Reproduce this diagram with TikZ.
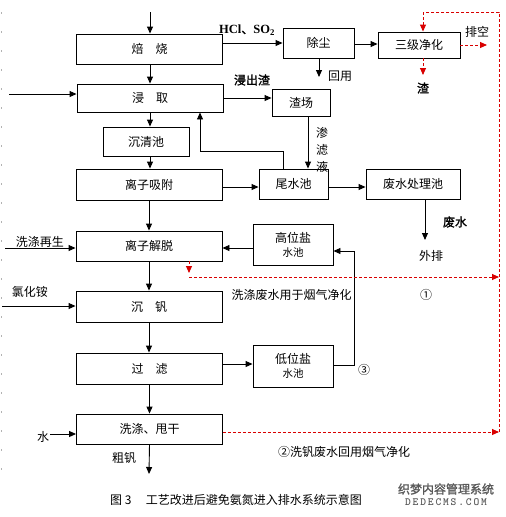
\documentclass[tikz,border=0pt]{standalone}
\usepackage{fontspec}
\setmainfont{Noto Sans CJK SC}
\newfontfamily\cjkb[FakeBold=1.5]{Noto Sans CJK SC}
\newfontfamily\tnr{Liberation Serif}
\usetikzlibrary{arrows.meta,calc}
\begin{document}
\begin{tikzpicture}[x=1pt,y=-1pt,
  box/.style={draw,line width=0.9pt,minimum width=146pt,minimum height=30pt,inner sep=0pt,font=\fontsize{12}{15}\selectfont},
  sbox/.style={draw,line width=0.9pt,inner sep=0pt,font=\fontsize{12}{15}\selectfont},
  arr/.style={line width=0.9pt,-{Triangle[length=7pt,width=6pt]}},
  ln/.style={line width=0.9pt},
  rarr/.style={draw=red!85!black,line width=0.9pt,dash pattern=on 3pt off 2pt,-{Triangle[length=7pt,width=6pt]}},
  rln/.style={draw=red!85!black,line width=0.9pt,dash pattern=on 3pt off 2pt},
  lbl/.style={inner sep=0pt,font=\fontsize{12}{15}\selectfont},
  blbl/.style={inner sep=0pt,font=\cjkb\fontsize{12}{15}\selectfont}]
\useasboundingbox (0,0) rectangle (506,517);
\fill[white] (0,0) rectangle (506,517);
% left margin marks
\draw[gray!60,line width=0.8pt,dash pattern=on 2pt off 17pt] (1,12) -- (1,470);

% main column
\node[box] (bs) at (149.5,49) {焙\hspace{1em}烧};
\node[box,minimum height=28pt] (jq) at (150,98) {浸\hspace{1em}取};
\node[box,minimum width=86pt,minimum height=29pt] (cq) at (146,141.5) {沉清池};
\node[box,minimum height=31pt] (lzxf) at (149,184.5) {离子吸附};
\node[box] (lzjt) at (149,246) {离子解脱};
\node[box,minimum height=31pt] (cf) at (149,306.5) {沉\hspace{1em}钒};
\node[box,minimum height=31pt] (gl) at (149.5,368.5) {过\hspace{1em}滤};
\node[box] (xd) at (149.5,429) {洗涤、甩干};

% right boxes
\node[sbox,minimum width=71pt,minimum height=30pt] (cc) at (318.5,43) {除尘};
\node[sbox,minimum width=82pt,minimum height=26pt] (sj) at (419,45) {三级净化};
\node[sbox,minimum width=58pt,minimum height=27pt] (zc) at (301,102.5) {渣场};
\node[sbox,minimum width=69pt,minimum height=30pt] (ws) at (293.5,184) {尾水池};
\node[sbox,minimum width=94pt,minimum height=30pt] (fs) at (413,184) {废水处理池};
\node[sbox,minimum width=80pt,minimum height=41pt,align=center] (gw) at (293,244.5) {高位盐\\[-1pt]{\fontsize{10.5}{12}\selectfont 水池}};
\node[sbox,minimum width=80pt,minimum height=42pt,align=center] (dw) at (293,366) {低位盐\\[-1pt]{\fontsize{10.5}{12}\selectfont 水池}};

% coordinates
\coordinate (top) at (150,12);
\coordinate (inL) at (9,94);
\coordinate (pk) at (487,45);
\coordinate (zha) at (423,75);
\coordinate (hy) at (319,77);
\coordinate (fb) at (200,151);
\coordinate (wp) at (425,240);
\coordinate (xz) at (5,248);
\coordinate (lh) at (2,306);
\coordinate (sh) at (50,434);
\coordinate (cfo) at (149,474);
\coordinate (rx) at (499,12);
\coordinate (rs) at (423,12);
\coordinate (rj) at (189,273);
\coordinate (rj2) at (189,277);
\coordinate (rr1) at (499,277);
\coordinate (rr2) at (499,432);
\coordinate (rt) at (354,365);
\coordinate (zs) at ($(zc.south)+(7,0)$);
\coordinate (wn) at ($(ws.north)+(-10.5,0)$);

% black arrows
\draw[arr] (top) -- (top |- bs.north);
\draw[arr] (top |- bs.south) -- (top |- jq.north);
\draw[arr] (inL) -- (inL -| jq.west);
\draw[arr] (jq.south) -- (jq.south |- cq.north);
\draw[arr] (jq.south |- cq.south) -- (jq.south |- lzxf.north);
\draw[arr] (lzxf.south) -- (lzxf.south |- lzjt.north);
\draw[arr] (lzjt.south) -- (lzjt.south |- cf.north);
\draw[arr] (cf.south) -- (cf.south |- gl.north);
\draw[arr] (gl.south) -- (gl.south |- xd.north);
\draw[arr] (xd.south) -- (cfo);

\draw[arr] (bs.east |- cc.west) -- (cc.west);
\draw[arr] (cc.east |- 0,44) -- (sj.west |- 0,44);
\draw[arr] (hy |- cc.south) -- (hy);
\draw[arr] (jq.east) -- (jq.east -| zc.west);
\draw[arr] (zs) -- (zs |- ws.north);
\draw[arr] (wn) |- (fb) -- (fb |- jq.south);
\draw[arr] (lzxf.east |- 0,187) -- (ws.west |- 0,187);
\draw[arr] (ws.east |- 0,187) -- (fs.west |- 0,187);
\draw[arr] (wp |- fs.south) -- (wp);
\draw[arr] (gw.west |- 0,248) -- (lzjt.east |- 0,248);
\draw[arr] (xz) -- (xz -| lzjt.west);
\draw[arr] (lh) -- (lh -| cf.west);
\draw[arr] (gl.east |- 0,364) -- (dw.west |- 0,364);
\draw[arr] (dw.east |- rt) -- (rt) -- (rt |- 0,251) -- (gw.east |- 0,251);
\draw[arr] (sh) -- (sh -| xd.west);

% red dashed
\draw[rarr] (sj.east) -- (pk);
\draw[rarr] (zha |- sj.south) -- (zha);
\draw[rln] (rr2) -- (rx) -- (rs);
\draw[rarr] (rs) -- (rs |- sj.north);
\draw[rarr] (rj |- lzjt.south) -- (rj);
\draw[rarr] (rj2) -- (rr1);
\draw[rarr] (xd.east |- rr2) -- (rr2);

% labels
\node[inner sep=0pt,anchor=west] (hcl) at (219,30) {{\tnr\bfseries\fontsize{12.5}{14}\selectfont HCl}{\cjkb\fontsize{12}{14}\selectfont 、}{\tnr\bfseries\fontsize{12.5}{14}\selectfont SO\textsubscript{2}}};
\node[blbl] (jcz) at (252,80) {浸出渣};
\node[lbl] (hyl) at (340,76) {回用};
\node[blbl] (zhal) at (423,88) {渣};
\node[lbl] (pkl) at (477,32) {排空};
\node[lbl,align=center,font=\fontsize{12}{17}\selectfont] (slv) at (322,150) {渗\\滤\\液};
\node[blbl] (fsl) at (455,222) {废水};
\node[lbl] (wpl) at (431,256) {外排};
\node[lbl] (xzl) at (40,242) {洗涤再生};
\node[lbl] (lhl) at (30,292) {氯化铵};
\node[lbl] (xdf) at (291.5,295) {洗涤废水用于烟气净化};
\node[lbl] (n1) at (426,295) {①};
\node[lbl] (n3) at (364,370) {③};
\node[lbl] (shl) at (43,437) {水};
\node[lbl] (cfl) at (124,458) {粗钒};
\node[lbl] (n2) at (344,452) {②洗钒废水回用烟气净化};
\node[lbl,anchor=west] (cap) at (110,500) {图 3\hspace{1.2em}工艺改进后避免氨氮进入排水系统示意图};
\node[inner sep=0pt,text=gray!70!black,font=\cjkb\fontsize{12}{13}\selectfont] (wm1) at (446,489) {织梦内容管理系统};
\node[inner sep=0pt,text=gray!70!black,font=\ttfamily\bfseries\fontsize{11}{12}\selectfont] (wm2) at (446,502) {D\,E\,D\,E\,C\,M\,S\,.\,C\,O\,M};
\end{tikzpicture}
\end{document}
